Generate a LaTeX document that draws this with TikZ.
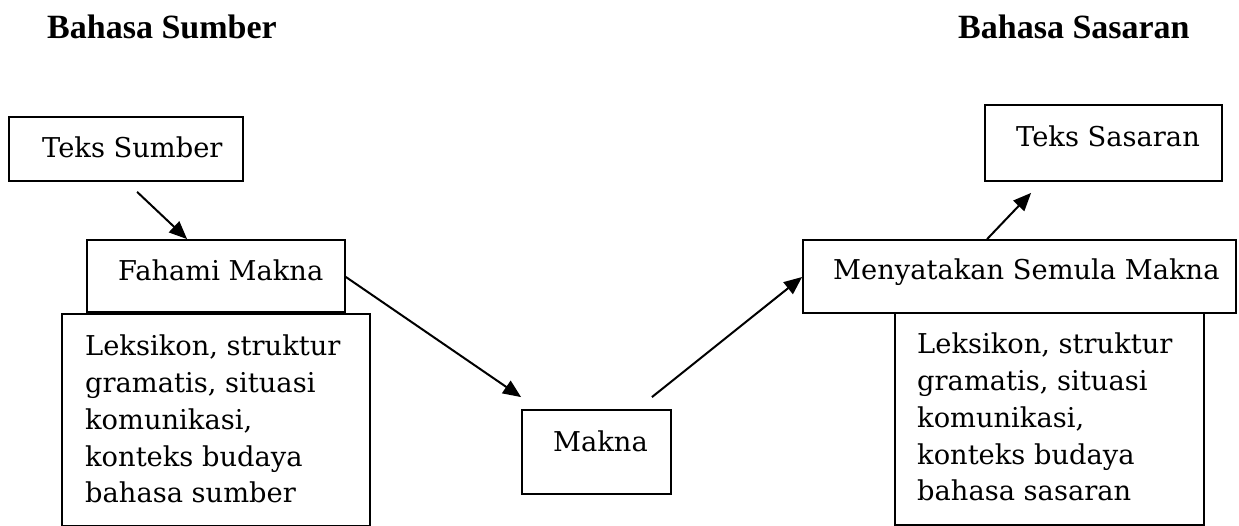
\documentclass[tikz,border=0pt]{standalone}
\usepackage{fontspec}
\setmainfont{DejaVu Serif}
\newfontfamily\headfont{Liberation Serif}
\usetikzlibrary{arrows.meta}
\tikzset{
  box/.style={draw, line width=1.8pt, inner sep=0pt, rectangle},
  txt/.style={inner sep=0pt, anchor=base west, font=\fontsize{27.3}{36.7}\selectfont},
  para/.style={inner sep=0pt, anchor=north west, align=left, font=\fontsize{27.3}{36.7}\selectfont},
  head/.style={inner sep=0pt, anchor=base west, font=\headfont\bfseries\fontsize{34}{40}\selectfont},
  arr/.style={line width=2pt, -{Triangle[length=18pt,width=15pt]}}
}
\begin{document}
\begin{tikzpicture}[x=1pt,y=1pt]
\useasboundingbox (0,0) rectangle (1239,-526);
\begin{scope}
\clip (0,0) rectangle (1239,-526);
% boxes
\node[box, minimum width=234pt, minimum height=64pt] (ts) at (126,-149) {};
\node[box, minimum width=258pt, minimum height=72pt] (fm) at (216,-276) {};
\node[box, minimum width=308pt, minimum height=212pt] (lk1) at (216,-420) {};
\node[box, minimum width=149pt, minimum height=84pt] (mk) at (596.5,-452) {};
\node[box, minimum width=433pt, minimum height=73pt] (mn) at (1019.5,-276.5) {};
\node[box, minimum width=237pt, minimum height=76pt] (tsa) at (1103.5,-143) {};
\node[box, minimum width=309pt, minimum height=212pt] (lk2) at (1049.5,-419) {};
\end{scope}
% headings
\node[head] (h1) at (47,-39) {Bahasa Sumber};
\node[head] (h2) at (958,-39) {Bahasa Sasaran};
% texts
\node[txt] (tts) at (42,-158) {Teks Sumber};
\node[txt] (tfm) at (118,-281) {Fahami Makna};
\node[para] (tlk1) at (85,-335) {Leksikon, struktur\\gramatis, situasi\\komunikasi,\\konteks budaya\\bahasa sumber};
\node[txt] (tmk) at (553,-451) {Makna};
\node[txt] (tmn) at (833,-280) {Menyatakan Semula Makna};
\node[txt] (ttsa) at (1016,-147) {Teks Sasaran};
\node[para] (tlk2) at (917,-333) {Leksikon, struktur\\gramatis, situasi\\komunikasi,\\konteks budaya\\bahasa sasaran};
% arrows
\draw[arr] ([xshift=129pt,yshift=-10pt]ts.south west) -- ([xshift=101pt]fm.north west);
\draw[arr] ([yshift=-1pt]fm.east) -- ([yshift=12pt]mk.north west);
\draw[arr] ([xshift=-20pt,yshift=12pt]mk.north east) -- ([yshift=-0.5pt]mn.west);
\draw[arr] ([xshift=3pt]mn.north west -| tsa.south west) -- ([xshift=47pt,yshift=-11pt]tsa.south west);
\end{tikzpicture}
\end{document}
